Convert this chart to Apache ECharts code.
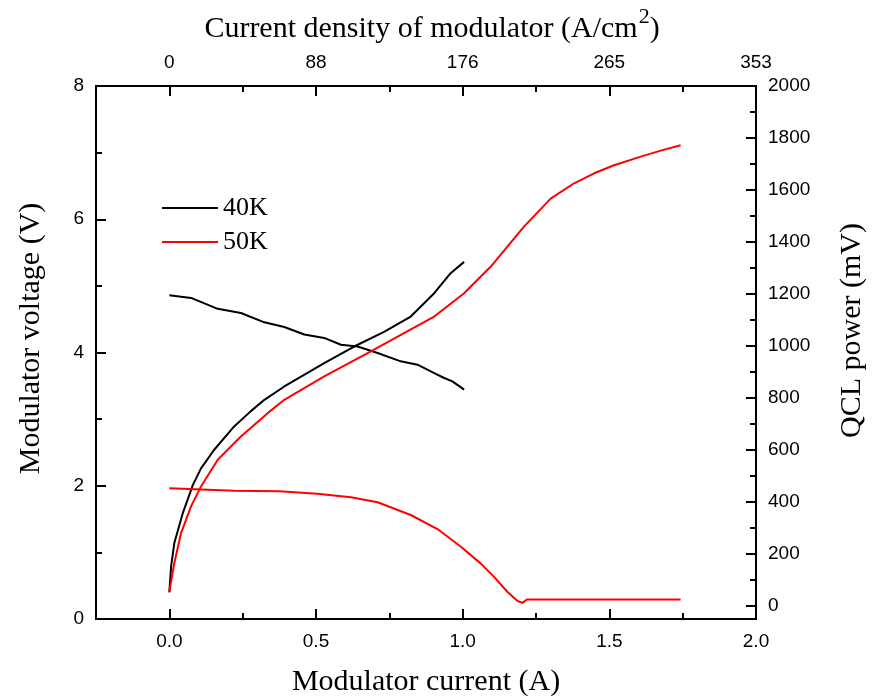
<!DOCTYPE html>
<html>
<head>
<meta charset="utf-8">
<script src="https://cdn.jsdelivr.net/npm/echarts@6/dist/echarts.min.js"></script>
<style>html,body{margin:0;padding:0;background:#fff}#c{width:877px;height:698px}</style>
</head>
<body>
<div id="c"></div>
<script>
// ---- data ----
const current40V = [0, 0.006, 0.017, 0.046, 0.080, 0.108, 0.153, 0.221, 0.278, 0.324, 0.392, 0.528, 0.630, 0.732, 0.823, 0.903, 0.959, 1.005];
const voltage40  = [0.40, 0.79, 1.14, 1.59, 2.01, 2.26, 2.54, 2.89, 3.12, 3.29, 3.49, 3.84, 4.09, 4.31, 4.54, 4.89, 5.19, 5.36];

const current40P = [0, 0.074, 0.165, 0.244, 0.324, 0.392, 0.460, 0.528, 0.585, 0.642, 0.710, 0.789, 0.846, 0.903, 0.937, 0.965, 1.005];
const power40    = [1195, 1185, 1143, 1127, 1091, 1073, 1044, 1031, 1005, 998, 973, 941, 928, 896, 877, 864, 832];

const current50V = [0, 0.017, 0.040, 0.074, 0.108, 0.165, 0.244, 0.335, 0.392, 0.528, 0.676, 0.800, 0.903, 1.005, 1.096, 1.209, 1.300, 1.380, 1.448, 1.516, 1.607, 1.675, 1.743];
const voltage50  = [0.41, 0.84, 1.29, 1.69, 1.99, 2.39, 2.74, 3.09, 3.29, 3.64, 3.99, 4.29, 4.54, 4.89, 5.29, 5.89, 6.31, 6.54, 6.69, 6.81, 6.94, 7.03, 7.11];

const current50P = [0, 0.221, 0.375, 0.504, 0.619, 0.710, 0.823, 0.914, 0.994, 1.062, 1.107, 1.153, 1.187, 1.204, 1.219, 1.743];
const power50    = [453, 443, 441, 432, 418, 399, 350, 296, 228, 163, 112, 54, 19, 12, 25, 25];

const currentTicks = [0, 0.5, 1.0, 1.5, 2.0];
const currentMinor = [0.25, 0.75, 1.25, 1.75];
const densityLabels = ['0', '88', '176', '265', '353'];
const voltageTicks = [0, 2, 4, 6, 8];
const voltageMinor = [1, 3, 5, 7];
const powerTicks = [0, 200, 400, 600, 800, 1000, 1200, 1400, 1600, 1800, 2000];
const powerMinor = [100, 300, 500, 700, 900, 1100, 1300, 1500, 1700, 1900];

const pairs = (xs, ys) => xs.map((x, i) => [x, ys[i]]);

const SANS = 'Liberation Sans';
const SERIF = 'Liberation Serif';
const axisLine = { show: true, onZero: false, lineStyle: { color: '#000', width: 2 } };
const labelStyle = { color: '#000', fontFamily: SANS, fontSize: 19 };

function xAx(pos, major, extra) {
  return Object.assign({
    type: 'value', position: pos, min: -0.25, max: 2.0,
    axisLine: axisLine,
    axisTick: { show: true, inside: true, length: major ? 10 : 6, lineStyle: { color: '#000', width: 2 },
      customValues: major ? currentTicks : currentMinor },
    axisLabel: major ? Object.assign({ customValues: currentTicks, margin: 13,
      formatter: v => v.toFixed(1) }, labelStyle) : { show: false },
    splitLine: { show: false }
  }, extra || {});
}
function yAx(pos, min, max, ticks, minor, major, extra) {
  return Object.assign({
    type: 'value', position: pos, min: min, max: max,
    axisLine: axisLine,
    axisTick: { show: true, inside: true, length: major ? 10 : 6, lineStyle: { color: '#000', width: 2 },
      customValues: major ? ticks : minor },
    axisLabel: major ? Object.assign({ customValues: ticks, margin: 12,
      formatter: v => String(v) }, labelStyle) : { show: false },
    splitLine: { show: false }
  }, extra || {});
}

const chart = echarts.init(document.getElementById('c'), null, { renderer: 'canvas' });
chart.setOption({
  animation: false,
  backgroundColor: '#fff',
  grid: { left: 96, right: 121, top: 86, bottom: 79, containLabel: false, outerBoundsMode: 'none' },
  legend: {
    data: [{ name: '40K', icon: 'rect' }, { name: '50K', icon: 'rect' }],
    orient: 'vertical', left: 157, top: 190,
    itemWidth: 56, itemHeight: 2, itemGap: 8,
    textStyle: { fontFamily: SERIF, fontSize: 26, color: '#000', lineHeight: 26 },
    selectedMode: false
  },
  xAxis: [
    xAx('bottom', true, { name: 'Modulator current (A)', nameLocation: 'middle', nameGap: 48,
      nameTextStyle: { fontFamily: SERIF, fontSize: 30, color: '#000' } }),
    xAx('bottom', false),
    xAx('top', true, {
      name: '{t|Current density of modulator (A/cm}{s|2}{t|)}', nameLocation: 'middle', nameGap: 42,
      nameTextStyle: { padding: [0, 0, 0, 12], rich: { t: { fontFamily: SERIF, fontSize: 30, color: '#000', verticalAlign: 'bottom' },
                               s: { fontFamily: SERIF, fontSize: 22, color: '#000', verticalAlign: 'top', padding: [0,0,16,1] } } },
      axisLabel: Object.assign({ customValues: currentTicks, margin: 14,
        formatter: v => densityLabels[currentTicks.indexOf(v)] }, labelStyle)
    }),
    xAx('top', false)
  ],
  yAxis: [
    yAx('left', 0, 8, voltageTicks, voltageMinor, true, { name: 'Modulator voltage (V)', nameLocation: 'middle', nameGap: 50,
      nameTextStyle: { fontFamily: SERIF, fontSize: 30, color: '#000', padding: [0, 0, 0, 28] } }),
    yAx('left', 0, 8, voltageTicks, voltageMinor, false),
    yAx('right', -50, 2000, powerTicks, powerMinor, true, { name: 'QCL power (mV)', nameLocation: 'middle', nameGap: 81,
      nameTextStyle: { fontFamily: SERIF, fontSize: 30, color: '#000', padding: [0, 0, 0, 44] } }),
    yAx('right', -50, 2000, powerTicks, powerMinor, false)
  ],
  series: [
    { name: '40K', type: 'line', xAxisIndex: 0, yAxisIndex: 0, data: pairs(current40V, voltage40),
      symbol: 'none', lineStyle: { color: '#000', width: 2 }, itemStyle: { color: '#000' } },
    { name: '40K', type: 'line', xAxisIndex: 0, yAxisIndex: 2, data: pairs(current40P, power40),
      symbol: 'none', lineStyle: { color: '#000', width: 2 }, itemStyle: { color: '#000' } },
    { name: '50K', type: 'line', xAxisIndex: 0, yAxisIndex: 0, data: pairs(current50V, voltage50),
      symbol: 'none', lineStyle: { color: '#ff0000', width: 2 }, itemStyle: { color: '#ff0000' } },
    { name: '50K', type: 'line', xAxisIndex: 0, yAxisIndex: 2, data: pairs(current50P, power50),
      symbol: 'none', lineStyle: { color: '#ff0000', width: 2 }, itemStyle: { color: '#ff0000' } }
  ]
});
</script>
</body>
</html>
